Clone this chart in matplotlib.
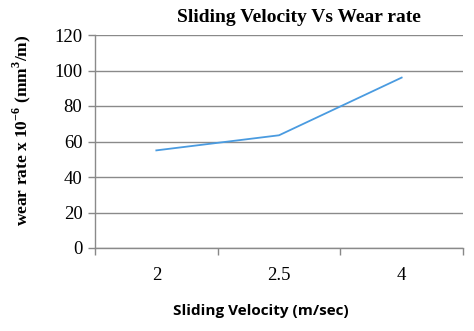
import numpy as np
import matplotlib
matplotlib.use("Agg")
import matplotlib.pyplot as plt

plt.rcParams["mathtext.fontset"] = "custom"
plt.rcParams["mathtext.rm"] = "Liberation Serif"
plt.rcParams["mathtext.bf"] = "Liberation Serif:bold"

# sliding velocity categories and measured wear rate
velocity = ["2", "2.5", "4"]
wear_rate = [55, 63.5, 96]
y_ticks = [0, 20, 40, 60, 80, 100, 120]

fig = plt.figure(figsize=(4.74, 3.31), dpi=100)
ax = fig.add_axes([95 / 474, 1 - 248 / 331, 368 / 474, 213 / 331])

x = np.arange(len(velocity))
ax.plot(x, wear_rate, color="#4a9be0", lw=1.3)

ax.set_xlim(-0.5, len(velocity) - 0.5)
ax.set_ylim(0, 120)
ax.set_yticks(y_ticks)
ax.set_xticks(x)
ax.set_xticklabels(velocity, family="Liberation Serif", fontsize=13.5)
ax.set_yticklabels([str(v) for v in y_ticks], family="Liberation Serif", fontsize=13.5)
ax.xaxis.set_minor_locator(matplotlib.ticker.FixedLocator([-0.5, 0.5, 1.5, 2.5]))
ax.tick_params(axis="x", which="major", length=0, pad=14)
ax.tick_params(axis="x", which="minor", length=5, color="#888888", width=1)
ax.tick_params(axis="y", length=5, color="#888888", width=1, pad=4)

ax.grid(axis="y", color="#8a8a8a", lw=1)
ax.set_axisbelow(True)
for s in ["top", "right"]:
    ax.spines[s].set_visible(False)
for s in ["left", "bottom"]:
    ax.spines[s].set_color("#8a8a8a")
    ax.spines[s].set_linewidth(1)

fig.text(299 / 474, 1 - 17 / 331, "Sliding Velocity Vs Wear rate", ha="center", va="center",
         family="Liberation Serif", fontweight="bold", fontsize=14)
fig.text(261 / 474, 1 - 311 / 331, "Sliding Velocity (m/sec)", ha="center", va="center",
         family="Open Sans", fontweight="bold", fontsize=11)
fig.text(22 / 474, 1 - 130 / 331, r"wear rate x 10$^{\mathbf{-6}}$ (mm$^{\mathbf{3}}$/m)", ha="center", va="center",
         rotation=90, family="Liberation Serif", fontweight="bold", fontsize=12.5)

fig.savefig("out.png", dpi=100)
